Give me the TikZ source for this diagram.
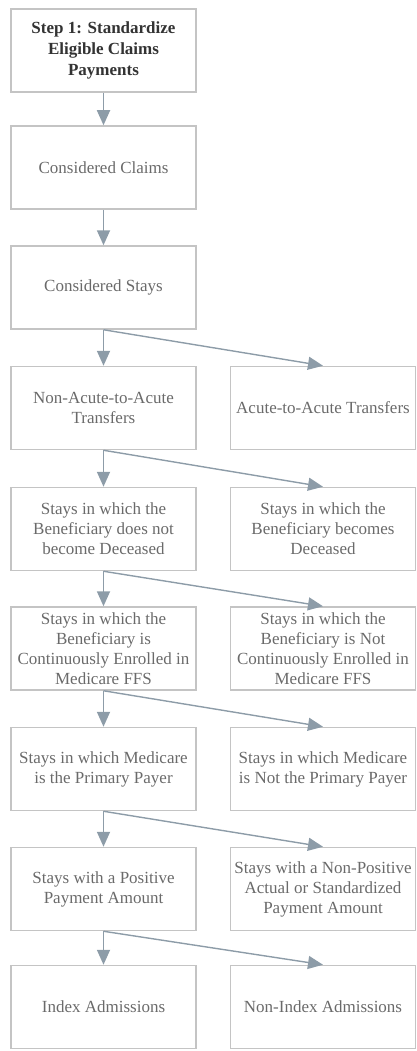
\documentclass[tikz,border=0pt]{standalone}
\usepackage{fontspec}
\setmainfont{Liberation Serif}
\usetikzlibrary{arrows.meta}
\definecolor{boxgray}{HTML}{C4C4C4}
\definecolor{txtgray}{HTML}{6A6A6A}
\definecolor{arrgray}{HTML}{8D9CA8}
\begin{document}
\begin{tikzpicture}[x=1pt,y=-1pt,
  box/.style={draw=boxgray, line width=1.5pt, rectangle, minimum width=185pt, minimum height=83pt,
    align=center, inner sep=0pt, text=txtgray, font=\fontsize{17}{20}\selectfont},
  titlebox/.style={box, text=black!80, font=\fontsize{17}{21}\selectfont\bfseries},
  flow/.style={draw=arrgray, line width=1.8pt, -{Triangle[width=13pt,length=15pt]}},
  side/.style={draw=arrgray, line width=1.4pt, -{Triangle[width=13pt,length=15pt]}}]
\useasboundingbox (0,0) rectangle (417,1051);
\node[titlebox] (s1) at (103.5,50.5) {Step 1: Standardize\\Eligible Claims\\Payments};
\node[box] (cc) at (103.5,167.5) {Considered Claims};
\node[box] (cs) at (103.5,287.5) {Considered Stays};
\node[box] (na) at (103.5,408) {Non-Acute-to-Acute\\Transfers};
\node[box] (aa) at (323,408) {Acute-to-Acute Transfers};
\node[box] (nd) at (103.5,529) {Stays in which the\\Beneficiary does not\\become Deceased};
\node[box] (bd) at (323,529) {Stays in which the\\Beneficiary becomes\\Deceased};
\node[box] (ce) at (103.5,648.5) {Stays in which the\\Beneficiary is\\Continuously Enrolled in\\Medicare FFS};
\node[box] (nce) at (323,648.5) {Stays in which the\\Beneficiary is Not\\Continuously Enrolled in\\Medicare FFS};
\node[box] (pp) at (103.5,769) {Stays in which Medicare\\is the Primary Payer};
\node[box] (npp) at (323,769) {Stays in which Medicare\\is Not the Primary Payer};
\node[box] (pa) at (103.5,889) {Stays with a Positive\\Payment Amount};
\node[box] (npa) at (323,889) {Stays with a Non-Positive\\Actual or Standardized\\Payment Amount};
\node[box] (ia) at (103.5,1007) {Index Admissions};
\node[box] (nia) at (323,1007) {Non-Index Admissions};
\draw[flow] (s1) -- (cc);
\draw[flow] (cc) -- (cs);
\draw[flow] (cs) -- (na);
\draw[flow] (na) -- (nd);
\draw[flow] (nd) -- (ce);
\draw[flow] (ce) -- (pp);
\draw[flow] (pp) -- (pa);
\draw[flow] (pa) -- (ia);
\draw[side] (cs.south) -- (aa.north);
\draw[side] (na.south) -- (bd.north);
\draw[side] (nd.south) -- (nce.north);
\draw[side] (ce.south) -- (npp.north);
\draw[side] (pp.south) -- (npa.north);
\draw[side] (pa.south) -- (nia.north);
\end{tikzpicture}
\end{document}
